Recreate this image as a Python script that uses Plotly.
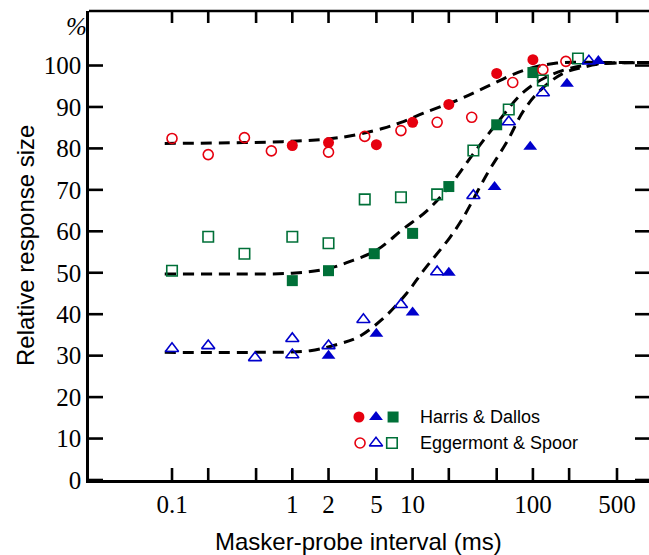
import plotly.graph_objects as go

# ---------------- data ----------------
# Harris & Dallos (filled symbols)
hd_circle_x = [1, 2, 5, 10, 20, 50, 100]
hd_circle_y = [80.7, 81.4, 80.9, 86.3, 90.6, 98.1, 101.4]
hd_square_x = [1, 2, 4.8, 10, 20, 50, 100]
hd_square_y = [48.1, 50.5, 54.6, 59.5, 70.8, 85.7, 98.3]
hd_tri_x = [2, 5, 10, 20, 48, 95, 192, 350]
hd_tri_y = [30.0, 35.3, 40.4, 50.0, 70.7, 80.4, 95.6, 101.1]

# Eggermont & Spoor (open symbols)
es_circle_x = [0.1, 0.2, 0.4, 0.67, 2, 4, 8, 16, 31, 68, 121, 188]
es_circle_y = [82.4, 78.5, 82.6, 79.4, 79.1, 82.9, 84.3, 86.3, 87.5, 95.9, 99.0, 101.0]
es_square_x = [0.1, 0.2, 0.4, 1, 2, 4, 8, 16, 32, 63, 121, 237]
es_square_y = [50.5, 58.7, 54.6, 58.7, 57.1, 67.7, 68.2, 68.9, 79.5, 89.4, 96.4, 101.7]
es_tri_x = [0.1, 0.2, 0.49, 1, 1, 2, 3.9, 8, 16, 32, 63, 121, 292]
es_tri_y = [31.7, 32.4, 29.5, 34.1, 30.2, 32.4, 38.7, 42.3, 50.2, 68.6, 86.4, 93.4, 101.1]

# dashed fit curves
fit_red_x = [0.087, 0.39, 0.95, 2.0, 3.0, 5.6, 7.9, 12.3, 23.4, 43.6, 83.2, 158, 398, 1000]
fit_red_y = [81.2, 81.4, 81.7, 82.3, 83.0, 84.8, 86.2, 88.5, 91.6, 95.2, 98.8, 100.6, 100.7, 100.7]
fit_green_x = [0.087, 0.32, 1.0, 2.0, 3.2, 5.0, 8.3, 13.2, 20.4, 31.6, 50, 83, 138, 263, 1000]
fit_green_y = [49.7, 49.7, 49.9, 51.0, 53.0, 55.4, 60.5, 65.0, 71.0, 78.5, 86.0, 93.5, 97.6, 100.0, 100.7]
fit_blue_x = [0.087, 0.5, 1.41, 2.5, 3.5, 5.6, 8.9, 12.3, 20.4, 26.3, 41.7, 61.7, 83.2, 115, 178, 263, 398, 1000]
fit_blue_y = [30.8, 30.8, 31.2, 32.9, 34.4, 38.8, 45.0, 50.5, 58.5, 63.3, 73.9, 81.9, 89.0, 94.0, 98.1, 99.6, 100.5, 100.7]

x_tickvals = [0.1, 0.2, 0.5, 1, 2, 5, 10, 20, 50, 100, 200, 500]
x_ticktext = ["0.1", "", "", "1", "2", "5", "10", "", "", "100", "", "500"]
y_tickvals = [0, 10, 20, 30, 40, 50, 60, 70, 80, 90, 100]
y_ticktext = [str(v) for v in y_tickvals]

legend_labels = ["Harris & Dallos", "Eggermont & Spoor"]

# ---------------- styles ----------------
RED = "#e6000f"
BLUE = "#0000cc"
GREEN = "#007038"
SERIF = "Liberation Serif"
SANS = "Liberation Sans"
X_RANGE = [-1.69, 2.965]
Y_RANGE = [0, 113.15]
W, H = 649, 555
ML, MR, MT, MB = 89, 0, 11, 75
PW, PH = W - ML - MR, H - MT - MB
XTICK_LEN = 12 / PH
YTICK_LEN = 14 / PW
LW = 2.6
FRAME = "black"

fig = go.Figure()

for fx, fy in [(fit_red_x, fit_red_y), (fit_green_x, fit_green_y), (fit_blue_x, fit_blue_y)]:
    fig.add_trace(go.Scatter(x=fx, y=fy, mode="lines",
                             line=dict(color="black", width=3, dash="11px,7px", shape="spline", smoothing=1.0),
                             hoverinfo="skip"))

def pts(x, y, symbol, color, size, lw=0):
    return go.Scatter(x=x, y=y, mode="markers",
                      marker=dict(symbol=symbol, color=color, size=size,
                                  line=dict(color=color, width=lw)))

# filled
fig.add_trace(pts(hd_circle_x, hd_circle_y, "circle", RED, 11))
fig.add_trace(pts(hd_square_x, hd_square_y, "square", GREEN, 11))
fig.add_trace(pts(hd_tri_x, hd_tri_y, "triangle-up", BLUE, 12))
# open
fig.add_trace(pts(es_circle_x, es_circle_y, "circle-open", RED, 10, 1.6))
fig.add_trace(pts(es_square_x, es_square_y, "square-open", GREEN, 10.5, 1.6))
fig.add_trace(pts(es_tri_x, es_tri_y, "triangle-up-open", BLUE, 11.5, 1.6))

# legend symbols on an overlay (0..1) axis pair
leg_row_y = [0.1343, 0.0789]
leg_specs = [
    (0.482, leg_row_y[0], "circle", RED, 11, 0),
    (0.5125, leg_row_y[0], "triangle-up", BLUE, 12, 0),
    (0.543, leg_row_y[0], "square", GREEN, 11, 0),
    (0.484, leg_row_y[1], "circle-open", RED, 10, 1.6),
    (0.5125, leg_row_y[1], "triangle-up-open", BLUE, 11.5, 1.6),
    (0.541, leg_row_y[1], "square-open", GREEN, 10.5, 1.6),
]
for lx, ly, sym, col, sz, lw in leg_specs:
    fig.add_trace(go.Scatter(x=[lx], y=[ly], xaxis="x2", yaxis="y2", mode="markers",
                             marker=dict(symbol=sym, color=col, size=sz, line=dict(width=lw, color=col)),
                             hoverinfo="skip"))

# frame: top border plus inward tick marks on all four sides
shapes = [dict(type="line", xref="paper", yref="paper", x0=0, x1=1, y0=1, y1=1,
               line=dict(color=FRAME, width=LW))]
for tv in x_tickvals:
    shapes.append(dict(type="line", xref="x", yref="paper", x0=tv, x1=tv, y0=0, y1=XTICK_LEN,
                       line=dict(color=FRAME, width=LW)))
    shapes.append(dict(type="line", xref="x", yref="paper", x0=tv, x1=tv, y0=1, y1=1 - XTICK_LEN,
                       line=dict(color=FRAME, width=LW)))
for tv in y_tickvals:
    shapes.append(dict(type="line", xref="paper", yref="y", x0=0, x1=YTICK_LEN, y0=tv, y1=tv,
                       line=dict(color=FRAME, width=LW)))
    shapes.append(dict(type="line", xref="paper", yref="y", x0=1, x1=1 - YTICK_LEN, y0=tv, y1=tv,
                       line=dict(color=FRAME, width=LW)))

annotations = [
    dict(text="Relative response size", x=-0.1143, y=0.501, xref="paper", yref="paper",
         textangle=-90, showarrow=False, font=dict(family=SANS, size=24, color="black"),
         xanchor="center", yanchor="middle"),
    dict(text="Masker-probe interval (ms)", x=0.482, y=-0.132, xref="paper", yref="paper",
         showarrow=False, font=dict(family=SANS, size=24, color="black"),
         xanchor="center", yanchor="middle"),
    dict(text="<i>%</i>", x=-0.0232, y=0.968, xref="paper", yref="paper",
         showarrow=False, font=dict(family=SERIF, size=25, color="black"),
         xanchor="center", yanchor="middle"),
    dict(text=legend_labels[0], x=0.5875, y=leg_row_y[0], xref="paper", yref="paper",
         showarrow=False, font=dict(family=SANS, size=18, color="black"),
         xanchor="left", yanchor="middle"),
    dict(text=legend_labels[1], x=0.5875, y=leg_row_y[1], xref="paper", yref="paper",
         showarrow=False, font=dict(family=SANS, size=18, color="black"),
         xanchor="left", yanchor="middle"),
]

fig.update_layout(
    width=W, height=H,
    margin=dict(l=ML, r=MR, t=MT, b=MB, pad=0),
    paper_bgcolor="white", plot_bgcolor="white",
    showlegend=False,
    annotations=annotations,
    shapes=shapes,
    xaxis=dict(type="log", range=X_RANGE, tickvals=x_tickvals, ticktext=x_ticktext,
               ticks="", showline=True, linewidth=LW, linecolor="black", mirror=False,
               showgrid=False, zeroline=False,
               tickfont=dict(family=SERIF, size=25, color="black")),
    yaxis=dict(range=Y_RANGE, tickvals=y_tickvals, ticktext=y_ticktext,
               ticks="", showline=True, linewidth=LW, linecolor="black", mirror=False,
               showgrid=False, zeroline=False,
               tickfont=dict(family=SERIF, size=25, color="black")),
    xaxis2=dict(range=[0, 1], overlaying="x", anchor="y2", visible=False, fixedrange=True),
    yaxis2=dict(range=[0, 1], overlaying="y", anchor="x2", visible=False, fixedrange=True),
)

fig.write_html("out.html")
